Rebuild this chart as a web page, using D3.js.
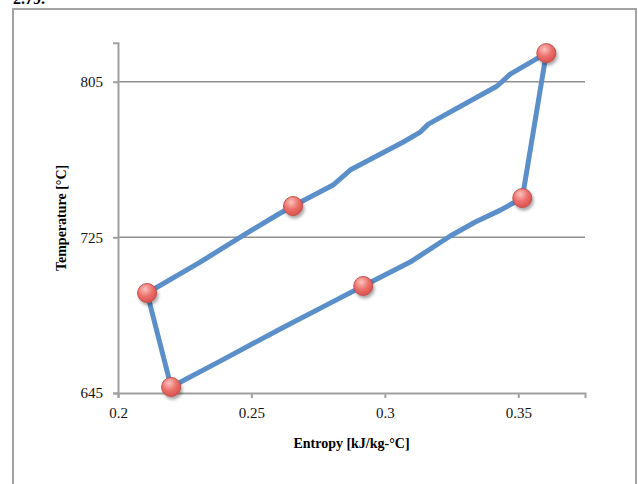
<!DOCTYPE html>
<html>
<head>
<meta charset="utf-8">
<script src="https://cdn.jsdelivr.net/npm/d3@7"></script>
<style>
  body { margin: 0; background: #fff; }
  svg { display: block; }
</style>
</head>
<body>
<svg id="chart"></svg>
<script>
// cycle path: [entropy, temperature]
const cyclePath = [
  [0.2109, 696.4], [0.2199, 648.1], [0.2383, 661.4], [0.2608, 677.9],
  [0.2795, 691.2], [0.2919, 700.0], [0.3095, 712.3], [0.3245, 725.7],
  [0.3339, 732.9], [0.3433, 739.0], [0.3515, 745.2], [0.3605, 819.7],
  [0.3470, 808.9], [0.3421, 802.8], [0.3163, 783.2], [0.3133, 779.1],
  [0.3069, 774.0], [0.2870, 759.6], [0.2806, 751.9], [0.2656, 741.1],
  [0.2596, 736.5], [0.2495, 728.2], [0.2308, 712.3], [0.2109, 696.4]
];
// state points with markers
const statePoints = [
  [0.2109, 696.4], [0.2199, 648.1], [0.2919, 700.0],
  [0.3515, 745.2], [0.3605, 819.7], [0.2656, 741.1]
];
const xTicks = [0.2, 0.25, 0.3, 0.35];
const yTicks = [645, 725, 805];

const width = 638, height = 484;
const mLeft = 118, mRight = 585, mTop = 42.8, mBottom = 393;

const svg = d3.select('#chart').attr('width', width).attr('height', height);

// text cut at the top of the page (as in the source)
svg.append('text')
  .attr('x', 13).attr('y', 4)
  .style('font-family', 'Liberation Serif, Times New Roman, serif')
  .style('font-size', '16px')
  .style('font-weight', 'bold')
  .text('2.79.');

// chart frame
svg.append('rect')
  .attr('x', 13).attr('y', 9)
  .attr('width', 623).attr('height', 500)
  .attr('fill', 'none')
  .attr('stroke', '#a3a3a3')
  .attr('stroke-width', 2);

const x = d3.scaleLinear().domain([0.2, 0.375]).range([mLeft, mRight]);
const y = d3.scaleLinear().domain([645, 825]).range([mBottom, mTop]);

const defs = svg.append('defs');
const grad = defs.append('radialGradient')
  .attr('id', 'ball').attr('cx', '40%').attr('cy', '30%').attr('r', '70%');
grad.append('stop').attr('offset', '0%').attr('stop-color', '#fbc3bd');
grad.append('stop').attr('offset', '55%').attr('stop-color', '#ec706b');
grad.append('stop').attr('offset', '100%').attr('stop-color', '#d9534f');
const shadow = defs.append('filter').attr('id', 'shadow')
  .attr('x', '-50%').attr('y', '-50%').attr('width', '200%').attr('height', '200%');
shadow.append('feDropShadow')
  .attr('dx', 1.5).attr('dy', 2.5).attr('stdDeviation', 1.8)
  .attr('flood-color', '#000').attr('flood-opacity', 0.35);

// gridlines
svg.append('g')
  .selectAll('line')
  .data(yTicks.slice(1))
  .join('line')
  .attr('x1', mLeft).attr('x2', mRight)
  .attr('y1', d => y(d)).attr('y2', d => y(d))
  .attr('stroke', '#8f8f8f')
  .attr('stroke-width', 1.5);

const font = 'Liberation Serif, Times New Roman, serif';

const yAxis = svg.append('g')
  .attr('transform', `translate(${mLeft},0)`)
  .call(d3.axisLeft(y).tickValues(yTicks).tickSize(5).tickPadding(10).tickFormat(d3.format('d')));
const xAxis = svg.append('g')
  .attr('transform', `translate(0,${mBottom})`)
  .call(d3.axisBottom(x).tickValues(xTicks).tickSize(5).tickPadding(9).tickFormat(d => String(d)));

[xAxis, yAxis].forEach(g => {
  g.select('.domain').attr('stroke', '#a0a0a0').attr('stroke-width', 2);
  g.selectAll('.tick line').attr('stroke', '#a0a0a0').attr('stroke-width', 2);
  g.selectAll('.tick text')
    .style('font-family', font)
    .style('font-size', '15px')
    .attr('fill', '#111');
});

// axis titles
svg.append('text')
  .attr('x', (mLeft + mRight) / 2).attr('y', 448)
  .attr('text-anchor', 'middle')
  .style('font-family', font).style('font-size', '14px').style('font-weight', 'bold')
  .text('Entropy [kJ/kg-°C]');

svg.append('text')
  .attr('transform', `translate(66,${(mTop + mBottom) / 2}) rotate(-90)`)
  .attr('text-anchor', 'middle')
  .style('font-family', font).style('font-size', '14px').style('font-weight', 'bold')
  .text('Temperature [°C]');

// cycle line
const line = d3.line().x(d => x(d[0])).y(d => y(d[1]));
svg.append('path')
  .datum(cyclePath)
  .attr('fill', 'none')
  .attr('stroke', '#5a8fca')
  .attr('stroke-width', 5)
  .attr('stroke-linejoin', 'round')
  .attr('d', line);

// markers
svg.append('g')
  .selectAll('circle')
  .data(statePoints)
  .join('circle')
  .attr('cx', d => x(d[0]))
  .attr('cy', d => y(d[1]))
  .attr('r', 9.5)
  .attr('fill', 'url(#ball)')
  .attr('stroke', '#c0504d')
  .attr('stroke-width', 1)
  .attr('filter', 'url(#shadow)');
</script>
</body>
</html>
